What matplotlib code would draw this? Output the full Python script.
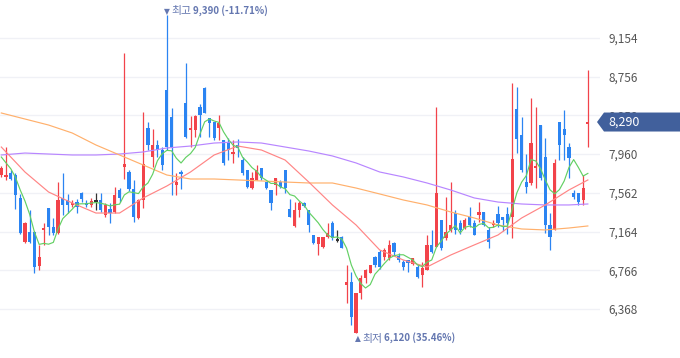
import numpy as np
import pandas as pd
import matplotlib
matplotlib.use("Agg")
import matplotlib.pyplot as plt
from matplotlib.patches import Polygon
from matplotlib.transforms import blended_transform_factory

OUT_PNG = "out.png"

# daily candles (KRW)
opens = [7745, 7725, 7766, 7745, 7509, 7056, 7159, 7159, 6810, 7180,
         7406, 7211, 7149, 7509, 7488, 7437, 7467, 7560, 7457, 7437,
         7478, 7488, 7334, 7396, 7365, 7591, 7828, 7776, 7601, 7303,
         7488, 8229, 7930, 8054, 8003, 8619, 8342, 7642, 7776, 8486,
         8208, 8208, 8444, 8640, 8331, 8290, 8229, 8105, 8085, 7961,
         8054, 7899, 7797, 7611, 7694, 7817, 7673, 7591, 7642, 7673,
         7797, 7396, 7221, 7385, 7457, 7385, 7128, 7036, 7005, 7108,
         7252, 7077, 7108, 6614, 6645, 6120, 6532, 6686, 6737, 6902,
         6953, 6902, 6892, 7046, 6912, 6850, 6871, 6830, 6799, 6717,
         6768, 7026, 7005, 7282, 7098, 7180, 7354, 7252, 7200, 7313,
         7252, 7334, 7365, 7180, 7231, 7344, 7313, 7344, 7313, 8424,
         8156, 7673, 7663, 7817, 8259, 7930, 7231, 7180, 8290, 8218,
         8033, 7560, 7560, 7488, 8270]
highs = [7838, 8033, 7797, 7766, 7550, 7262, 7385, 7170, 7026, 7252,
         7406, 7303, 7673, 7766, 7550, 7488, 7498, 7570, 7488, 7509,
         7560, 7560, 7457, 7457, 7622, 7611, 9000, 7797, 7693, 7498,
         8393, 8290, 8218, 8105, 8033, 9390, 8434, 7766, 7797, 8897,
         8352, 8362, 8475, 8650, 8331, 8290, 8362, 8105, 8126, 8105,
         8116, 7930, 7797, 7776, 7848, 7817, 7673, 7591, 7714, 7694,
         7797, 7498, 7467, 7478, 7467, 7385, 7128, 7108, 7108, 7252,
         7270, 7180, 7118, 6820, 6748, 6532, 6717, 6778, 6820, 6912,
         6974, 6994, 7077, 7056, 6943, 6871, 6871, 6892, 6820, 6850,
         7128, 7180, 8444, 7282, 7519, 7673, 7385, 7282, 7303, 7416,
         7282, 7467, 7365, 7211, 7282, 7426, 7313, 7416, 8691, 8650,
         8342, 7961, 8537, 8444, 8259, 8126, 7354, 7910, 8290, 8414,
         8074, 7591, 7560, 7745, 8825]
lows = [7725, 7694, 7694, 7396, 7139, 7046, 7046, 6737, 6768, 7026,
        7128, 7128, 7139, 7334, 7354, 7416, 7354, 7467, 7416, 7416,
        7385, 7365, 7313, 7252, 7354, 7467, 7700, 7580, 7262, 7290,
        7406, 8002, 7828, 7930, 7797, 8002, 7540, 7540, 7600, 8126,
        8033, 8136, 8136, 8383, 8136, 8105, 8105, 7848, 7899, 7869,
        7930, 7745, 7611, 7601, 7694, 7694, 7601, 7385, 7540, 7611,
        7560, 7313, 7211, 7313, 7416, 7159, 7036, 6922, 6994, 7098,
        7077, 7056, 6994, 6429, 6202, 6120, 6470, 6634, 6737, 6799,
        6778, 6871, 6871, 6922, 6850, 6768, 6748, 6820, 6686, 6593,
        6768, 6943, 7005, 6974, 7077, 7159, 7139, 7139, 7190, 7211,
        7128, 7262, 7221, 6994, 7211, 7211, 7170, 7139, 7098, 7971,
        7776, 7560, 7642, 7611, 7694, 7149, 6974, 7180, 7899, 7899,
        7714, 7498, 7437, 7437, 8033]
closes = [7817, 7745, 7704, 7540, 7149, 7252, 7056, 6799, 6902, 7200,
          7211, 7149, 7488, 7437, 7437, 7457, 7416, 7498, 7437, 7478,
          7478, 7385, 7437, 7354, 7540, 7509, 7858, 7601, 7313, 7488,
          7858, 8054, 8054, 8003, 7848, 8033, 8033, 7673, 7756, 8136,
          8229, 8352, 8362, 8383, 8280, 8126, 8280, 7869, 8002, 7982,
          8023, 7766, 7622, 7714, 7797, 7714, 7611, 7457, 7714, 7622,
          7611, 7313, 7385, 7457, 7426, 7231, 7046, 7108, 7108, 7149,
          7098, 7077, 6994, 6645, 6285, 6532, 6686, 6768, 6820, 6820,
          6799, 6974, 7026, 6953, 6871, 6799, 6840, 6892, 6696, 6789,
          7026, 6953, 7560, 6994, 7159, 7231, 7180, 7180, 7282, 7231,
          7128, 7365, 7231, 7056, 7252, 7252, 7282, 7252, 7910, 8116,
          7797, 7622, 8074, 7838, 7714, 7231, 7108, 7869, 8054, 8156,
          7920, 7519, 7467, 7611, 8290]
# closes of the 4 sessions before the window (for the 5-day line)
prev_closes = [8050, 8000, 7990, 7794]

# longer moving averages, read every 5 sessions
ma_idx = [0, 5, 10, 15, 20, 25, 30, 35, 40, 45, 50, 55, 60,
          65, 70, 75, 80, 85, 90, 95, 100, 105, 110, 115, 120, 124]
ma20 = [8033, 7776, 7570, 7457, 7354, 7354, 7509, 7632, 7776, 7951,
        8043, 8002, 7899, 7673, 7437, 7231, 6974, 6871, 6799, 6922,
        7026, 7128, 7303, 7437, 7591, 7694]
ma60 = [8383, 8321, 8259, 8177, 8054, 7951, 7848, 7745, 7704, 7704,
        7694, 7684, 7673, 7663, 7663, 7611, 7550, 7488, 7437, 7365,
        7303, 7231, 7190, 7180, 7200, 7221]
ma120 = [7951, 7971, 7961, 7951, 7951, 7961, 7982, 8023, 8043, 8074,
         8085, 8074, 8033, 7992, 7941, 7869, 7776, 7725, 7663, 7591,
         7509, 7467, 7447, 7437, 7437, 7447]

y_ticks = [6368, 6766, 7164, 7562, 7960, 8358, 8756, 9154]

UP = "#f2434a"
DOWN = "#2b84f2"
FLAT = "#333333"
NOTE = "#6477b0"


def main():
    plt.rcParams["font.family"] = ["Noto Sans CJK KR", "DejaVu Sans"]

    fig = plt.figure(figsize=(6.8, 3.58), dpi=100)
    ax = fig.add_axes([0, 0, 600 / 680, 1])

    o = np.array(opens, dtype=float)
    h = np.array(highs, dtype=float)
    l = np.array(lows, dtype=float)
    c = np.array(closes, dtype=float)
    x = np.arange(len(c))

    colors = np.where(c > o, UP, np.where(c < o, DOWN, FLAT))

    # candles
    ax.vlines(x, l, h, colors=colors, linewidth=0.9, zorder=2)
    body_h = np.maximum(np.abs(c - o), 14)
    body_b = np.where(c == o, o - 7, np.minimum(o, c))
    ax.bar(x, body_h, bottom=body_b, width=0.68, color=colors,
           linewidth=0, zorder=2)

    # moving averages
    ma5 = pd.Series(prev_closes + closes).rolling(5).mean().values[len(prev_closes):]
    ax.plot(ma_idx, ma120, color="#b886ff", lw=0.85, zorder=3)
    ax.plot(ma_idx, ma60, color="#ffb06c", lw=0.85, zorder=3)
    ax.plot(ma_idx, ma20, color="#ff8585", lw=0.85, zorder=3)
    ax.plot(x, ma5, color="#63d064", lw=0.85, zorder=3)

    # axes look
    ax.set_xlim(-0.275, 126.57)
    ax.set_ylim(5863, 9545)
    ax.set_xticks([])
    ax.set_yticks(y_ticks)
    ax.set_yticklabels([f"{v:,}" for v in y_ticks])
    ax.yaxis.tick_right()
    ax.tick_params(axis="y", length=0, pad=6, labelsize=8.5, labelcolor="#555555")
    ax.grid(axis="y", color="#f0f1f6", lw=1.0, zorder=0)
    for s in ax.spines.values():
        s.set_visible(False)

    last = c[-1]

    # high / low notes
    hi_i = int(np.argmax(h))
    lo_i = int(np.argmin(l))
    hi_pct = (last - h[hi_i]) / h[hi_i] * 100
    lo_pct = (last - l[lo_i]) / l[lo_i] * 100

    t1 = ax.annotate("최고", xy=(hi_i, h[hi_i]), xytext=(3.5, -1),
                     textcoords="offset points", ha="left", va="bottom",
                     fontsize=7.8, color=NOTE, zorder=5)
    ax.annotate("▼", xy=(0, 0.5), xycoords=t1, xytext=(-1, 0),
                textcoords="offset points", ha="right", va="center",
                fontsize=5.5, color=NOTE, family="DejaVu Sans")
    ax.annotate(f"{h[hi_i]:,.0f} ({hi_pct:.2f}%)", xy=(1, 0), xycoords=t1,
                xytext=(1.2, 0.3), textcoords="offset points", ha="left",
                va="bottom", fontsize=7, color=NOTE, fontweight="bold")

    t2 = ax.annotate("최저", xy=(lo_i, l[lo_i]), xytext=(4.5, -0.5),
                     textcoords="offset points", ha="left", va="top",
                     fontsize=7.8, color=NOTE, zorder=5)
    ax.annotate("▲", xy=(0, 0.5), xycoords=t2, xytext=(-1, 0),
                textcoords="offset points", ha="right", va="center",
                fontsize=5.5, color=NOTE, family="DejaVu Sans")
    ax.annotate(f"{l[lo_i]:,.0f} ({lo_pct:.2f}%)", xy=(1, 0), xycoords=t2,
                xytext=(1.2, 0.3), textcoords="offset points", ha="left",
                va="bottom", fontsize=7, color=NOTE, fontweight="bold")

    # current price tag on the right axis
    trans = blended_transform_factory(fig.transFigure, ax.transData)
    half = 9.5 * (9545 - 5863) / 358
    tag = Polygon([(597 / 680, last), (604 / 680, last + half), (1.0, last + half),
                   (1.0, last - half), (604 / 680, last - half)],
                  closed=True, transform=trans, facecolor="#41609c",
                  edgecolor="none", zorder=10)
    fig.add_artist(tag)
    fig.text(608 / 680, last, f"{last:,.0f}", transform=trans, ha="left",
             va="center", fontsize=9, color="white", zorder=11)

    fig.savefig(OUT_PNG, dpi=100)
    plt.close(fig)


if __name__ == "__main__":
    main()
